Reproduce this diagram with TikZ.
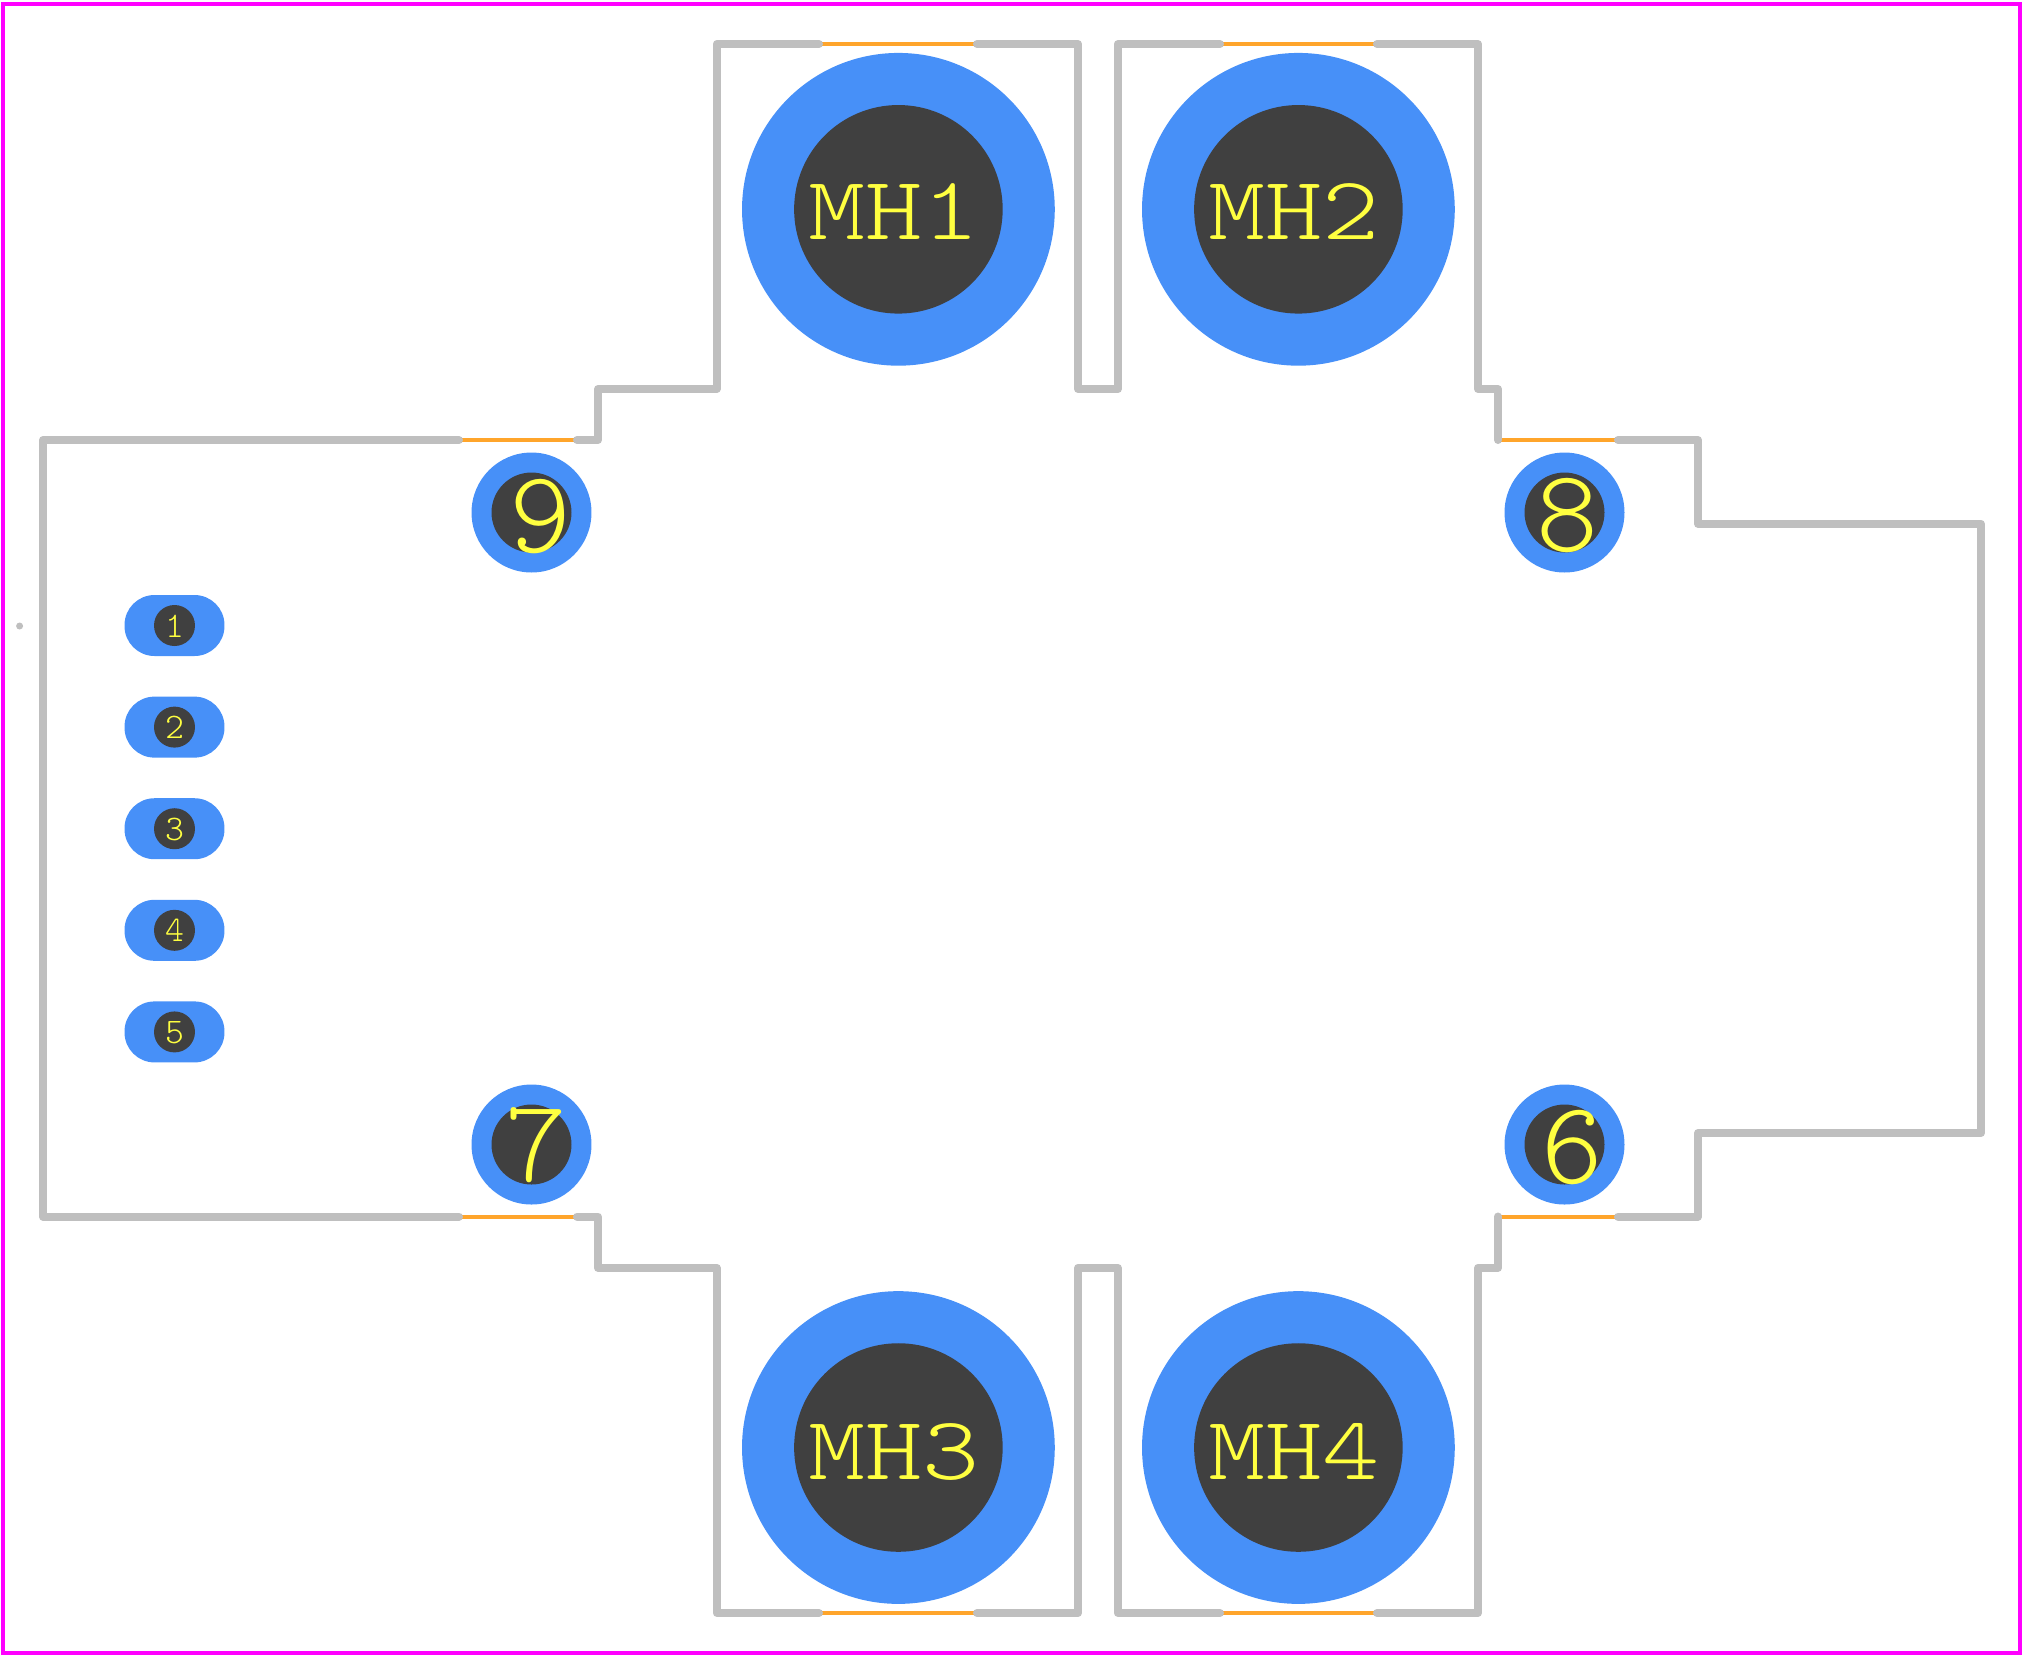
\documentclass[tikz,border=0pt]{standalone}
\usepackage{xcolor}
\usepackage{graphicx}
\definecolor{framepink}{RGB}{255,0,255}
\definecolor{padblue}{HTML}{4790F8}
\definecolor{holegray}{HTML}{404040}
\definecolor{silkgray}{HTML}{BFBFBF}
\definecolor{silkorange}{HTML}{FFA52B}
\definecolor{txtyellow}{HTML}{FFFF40}
\newcommand{\wide}[1]{\scalebox{1.21}[1]{#1}}
\begin{document}
\begin{tikzpicture}[x=0.02cm,y=-0.02cm,line cap=round,line join=round]
  \tikzstyle{frame}=[draw=framepink,line width=0.08cm,line cap=butt,line join=miter]
  \tikzstyle{silk}=[draw=silkgray,line width=0.16cm]
  \tikzstyle{fab}=[draw=silkorange,line width=0.08cm,line cap=butt]
  \tikzstyle{mhpad}=[circle,fill=padblue,inner sep=0pt,minimum size=6.256cm]
  \tikzstyle{mhhole}=[circle,fill=holegray,inner sep=0pt,minimum size=4.172cm]
  \tikzstyle{roundpad}=[circle,fill=padblue,inner sep=0pt,minimum size=2.4cm]
  \tikzstyle{roundhole}=[circle,fill=holegray,inner sep=0pt,minimum size=1.6cm]
  \tikzstyle{slotpad}=[rectangle,rounded corners=0.6cm,fill=padblue,inner sep=0pt,
                       minimum width=2cm,minimum height=1.22cm]
  \tikzstyle{slothole}=[circle,fill=holegray,inner sep=0pt,minimum size=0.82cm]
  \tikzstyle{mhtxt}=[text=txtyellow,inner sep=0pt,anchor=base,
                     font=\ttfamily\fontseries{l}\fontsize{51.2}{51.2}\selectfont]
  \tikzstyle{bigtxt}=[text=txtyellow,inner sep=0pt,anchor=base,
                      font=\ttfamily\fontseries{l}\fontsize{67}{67}\selectfont]
  \tikzstyle{smalltxt}=[text=txtyellow,inner sep=0pt,anchor=base,
                        font=\ttfamily\fontseries{l}\fontsize{20.5}{20.5}\selectfont]

  \useasboundingbox (0,0) rectangle (2024,1658);
  \path[frame] (3,4) rectangle (2020,1653);

  \node[mhpad] (MH1) at (898.4,209.3) {};
  \node[mhpad] (MH2) at (1298.4,209.3) {};
  \node[mhpad] (MH3) at (898.4,1447.5) {};
  \node[mhpad] (MH4) at (1298.4,1447.5) {};
  \node[mhhole] (H1) at (MH1) {};
  \node[mhhole] (H2) at (MH2) {};
  \node[mhhole] (H3) at (MH3) {};
  \node[mhhole] (H4) at (MH4) {};

  \node[roundpad] (P9) at (531.5,512.5) {};
  \node[roundpad] (P8) at (1564.5,512.5) {};
  \node[roundpad] (P7) at (531.5,1144.5) {};
  \node[roundpad] (P6) at (1564.5,1144.5) {};
  \node[roundhole] (H9) at (P9) {};
  \node[roundhole] (H8) at (P8) {};
  \node[roundhole] (H7) at (P7) {};
  \node[roundhole] (H6) at (P6) {};

  \node[slotpad] (P1) at (174.5,625.5) {};
  \node[slotpad] (P2) at (174.5,727.1) {};
  \node[slotpad] (P3) at (174.5,828.7) {};
  \node[slotpad] (P4) at (174.5,930.3) {};
  \node[slotpad] (P5) at (174.5,1031.9) {};
  \node[slothole] (H1s) at (P1) {};
  \node[slothole] (H2s) at (P2) {};
  \node[slothole] (H3s) at (P3) {};
  \node[slothole] (H4s) at (P4) {};
  \node[slothole] (H5s) at (P5) {};

  \path[fab] (459,440) -- (577,440);
  \path[fab] (1498,440) -- (1618,440);
  \path[fab] (459,1216.5) -- (577,1216.5);
  \path[fab] (1498,1216.5) -- (1618,1216.5);
  \path[fab] (819,44) -- (977,44);
  \path[fab] (1220,44) -- (1377,44);
  \path[fab] (819,1613) -- (977,1613);
  \path[fab] (1220,1613) -- (1377,1613);

  \path[silk] (459,440) -- (43,440) -- (43,1216.5) -- (459,1216.5);
  \path[silk] (577,440) -- (598,440) -- (598,389) -- (716.7,389) -- (716.7,44) -- (819,44);
  \path[silk] (977,44) -- (1078,44) -- (1078,389) -- (1117.8,389) -- (1117.8,44) -- (1220,44);
  \path[silk] (1377,44) -- (1478,44) -- (1478,389) -- (1498,389) -- (1498,440);
  \path[silk] (1618,440) -- (1698,440) -- (1698,523.8) -- (1981,523.8)
                -- (1981,1133) -- (1698,1133) -- (1698,1216.5) -- (1618,1216.5);
  \path[silk] (1498,1216.5) -- (1498,1267.8) -- (1478,1267.8) -- (1478,1613) -- (1377,1613);
  \path[silk] (1220,1613) -- (1117.8,1613) -- (1117.8,1267.8) -- (1078,1267.8)
                -- (1078,1613) -- (977,1613);
  \path[silk] (819,1613) -- (716.7,1613) -- (716.7,1267.8) -- (598,1267.8)
                -- (598,1216.5) -- (577,1216.5);
  \fill[silkgray] (19.6,626) circle (3.5);

  \node[mhtxt] (T1) at (894,239) {\wide{MH1}};
  \node[mhtxt] (T2) at (1294,239) {\wide{MH2}};
  \node[mhtxt] (T3) at (894,1479) {\wide{MH3}};
  \node[mhtxt] (T4) at (1294,1479) {\wide{MH4}};

  \node[bigtxt] (T9) at (540,552) {9};
  \node[bigtxt] (T8) at (1567,551) {8};
  \node[bigtxt] (T7) at (536,1181) {7};
  \node[bigtxt] (T6) at (1572,1183) {6};

  \node[smalltxt] (Ts1) at (174.5,637) {1};
  \node[smalltxt] (Ts2) at (174.5,738.6) {2};
  \node[smalltxt] (Ts3) at (174.5,840.2) {3};
  \node[smalltxt] (Ts4) at (174.5,941.8) {4};
  \node[smalltxt] (Ts5) at (174.5,1043.4) {5};
\end{tikzpicture}
\end{document}
